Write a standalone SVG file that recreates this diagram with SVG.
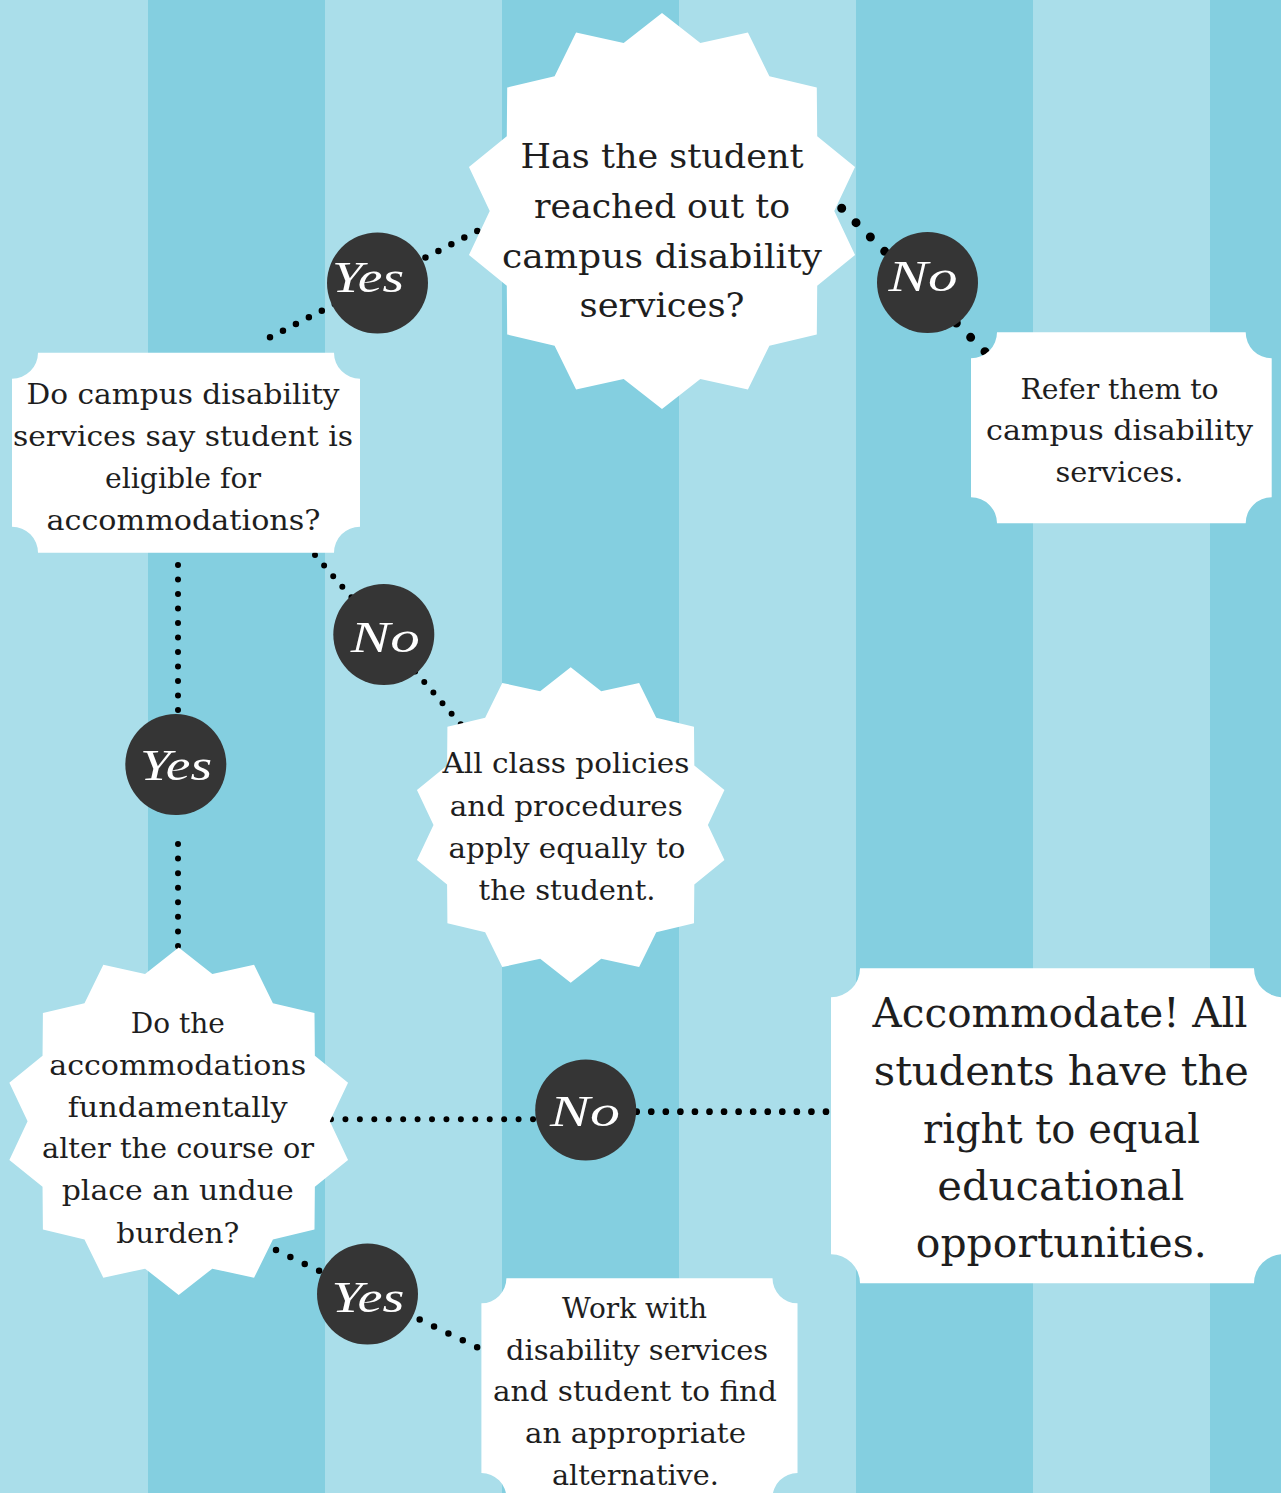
<svg xmlns="http://www.w3.org/2000/svg" xmlns:xlink="http://www.w3.org/1999/xlink" width="1281" height="1493" viewBox="0 0 1281 1493">
<style>
.stripe{fill:#84cfe0}
.node{fill:#fff}
.dot{fill:none;stroke:#000;stroke-linecap:round}
.t{font-family:"DejaVu Serif","Liberation Serif",serif;fill:#1e1e1e;text-anchor:middle}
.s34{font-size:34px}
.s28{font-size:28px}
.s41{font-size:41px}
.badge{fill:#353535}
.lbl{font-family:"Liberation Serif","DejaVu Serif",serif;font-style:italic;fill:#fff;text-anchor:middle;font-size:44px}
</style>
<defs>
<polygon id="star" points="0,-100 19.36,-84.82 43.39,-90.1 54.24,-68.02 78.18,-62.35 78.39,-37.75 97.49,-22.25 87,0 97.49,22.25 78.39,37.75 78.18,62.35 54.24,68.02 43.39,90.1 19.36,84.82 0,100 -19.36,84.82 -43.39,90.1 -54.24,68.02 -78.18,62.35 -78.39,37.75 -97.49,22.25 -87,0 -97.49,-22.25 -78.39,-37.75 -78.18,-62.35 -54.24,-68.02 -43.39,-90.1 -19.36,-84.82"/>
</defs>
<g id="background">
<rect x="0" y="0" width="1281" height="1493" fill="#aadeea"/>
<rect class="stripe" x="148" y="0" width="177" height="1493"/>
<rect class="stripe" x="502" y="0" width="177" height="1493"/>
<rect class="stripe" x="856" y="0" width="177" height="1493"/>
<rect class="stripe" x="1210" y="0" width="71" height="1493"/>
</g>
<g id="connectors">
<path class="dot" stroke-width="6.5" stroke-dasharray="0 14.56" d="M270,337.3 L478.2,230.5"/>
<path class="dot" stroke-width="9" stroke-dasharray="0 20.27" d="M841.7,208.3 L985.7,352.4"/>
<path class="dot" stroke-width="6" stroke-dasharray="0 13.96" d="M315,555 L461.4,725.1"/>
<path class="dot" stroke-width="6" stroke-dasharray="0 14.5" d="M178,565 L178,817"/>
<path class="dot" stroke-width="6" stroke-dasharray="0 14.57" d="M178,844 L178,947"/>
<path class="dot" stroke-width="6" stroke-dasharray="0 14.43" d="M331,1119.3 L534,1119.3"/>
<path class="dot" stroke-width="6.7" stroke-dasharray="0 14.56" d="M636.7,1111.7 L827,1111.7"/>
<path class="dot" stroke-width="6.5" stroke-dasharray="0 15.96" d="M276,1250 L478,1347.7"/>
</g>
<g id="node-reached-out">
<use xlink:href="#star" class="node" transform="translate(662 211) scale(1.98)"/>
<text class="t s34" x="662" y="168" textLength="283" lengthAdjust="spacingAndGlyphs">Has the student</text>
<text class="t s34" x="662" y="218" textLength="256" lengthAdjust="spacingAndGlyphs">reached out to</text>
<text class="t s34" x="662" y="267.5" textLength="320" lengthAdjust="spacingAndGlyphs">campus disability</text>
<text class="t s34" x="662" y="317" textLength="165" lengthAdjust="spacingAndGlyphs">services?</text>
</g>
<g id="node-refer">
<path class="node" d="M997,332.3 H1245.7 A26 26 0 0 0 1271.7,358.3 V497.3 A26 26 0 0 0 1245.7,523.3 H997 A26 26 0 0 0 971,497.3 V358.3 A26 26 0 0 0 997,332.3 Z"/>
<text class="t s28" x="1119.5" y="398.5" textLength="198" lengthAdjust="spacingAndGlyphs">Refer them to</text>
<text class="t s28" x="1119.5" y="440" textLength="267" lengthAdjust="spacingAndGlyphs">campus disability</text>
<text class="t s28" x="1119.5" y="481.5" textLength="128" lengthAdjust="spacingAndGlyphs">services.</text>
</g>
<g id="node-eligible">
<path class="node" d="M38,352.7 H334 A26 26 0 0 0 360,378.7 V526.7 A26 26 0 0 0 334,552.7 H38 A26 26 0 0 0 12,526.7 V378.7 A26 26 0 0 0 38,352.7 Z"/>
<text class="t s28" x="183" y="404" textLength="313" lengthAdjust="spacingAndGlyphs">Do campus disability</text>
<text class="t s28" x="183" y="446" textLength="340" lengthAdjust="spacingAndGlyphs">services say student is</text>
<text class="t s28" x="183" y="488" textLength="156" lengthAdjust="spacingAndGlyphs">eligible for</text>
<text class="t s28" x="183.5" y="529.5" textLength="274" lengthAdjust="spacingAndGlyphs">accommodations?</text>
</g>
<g id="node-policies">
<use xlink:href="#star" class="node" transform="translate(570.7 825) scale(1.577)"/>
<text class="t s28" x="566" y="773.3" textLength="247" lengthAdjust="spacingAndGlyphs">All class policies</text>
<text class="t s28" x="566.3" y="815.7" textLength="233" lengthAdjust="spacingAndGlyphs">and procedures</text>
<text class="t s28" x="567" y="857.7" textLength="237" lengthAdjust="spacingAndGlyphs">apply equally to</text>
<text class="t s28" x="567" y="900" textLength="177" lengthAdjust="spacingAndGlyphs">the student.</text>
</g>
<g id="node-alter">
<use xlink:href="#star" class="node" transform="translate(178.7 1121.3) scale(1.737)"/>
<text class="t s28" x="177.8" y="1032.7" textLength="94" lengthAdjust="spacingAndGlyphs">Do the</text>
<text class="t s28" x="177.7" y="1075" textLength="257" lengthAdjust="spacingAndGlyphs">accommodations</text>
<text class="t s28" x="177.7" y="1116.7" textLength="220" lengthAdjust="spacingAndGlyphs">fundamentally</text>
<text class="t s28" x="178" y="1158.3" textLength="272" lengthAdjust="spacingAndGlyphs">alter the course or</text>
<text class="t s28" x="177.7" y="1200" textLength="232" lengthAdjust="spacingAndGlyphs">place an undue</text>
<text class="t s28" x="177.8" y="1242.7" textLength="123" lengthAdjust="spacingAndGlyphs">burden?</text>
</g>
<g id="node-accommodate">
<path class="node" d="M860,968.3 H1254 A29 29 0 0 0 1283,997.3 V1254.3 A29 29 0 0 0 1254,1283.3 H860 A29 29 0 0 0 831,1254.3 V997.3 A29 29 0 0 0 860,968.3 Z"/>
<text class="t s41" x="1060" y="1027.3" textLength="375" lengthAdjust="spacingAndGlyphs">Accommodate! All</text>
<text class="t s41" x="1061.3" y="1085" textLength="375" lengthAdjust="spacingAndGlyphs">students have the</text>
<text class="t s41" x="1061.5" y="1142.7" textLength="277" lengthAdjust="spacingAndGlyphs">right to equal</text>
<text class="t s41" x="1060.8" y="1200" textLength="247" lengthAdjust="spacingAndGlyphs">educational</text>
<text class="t s41" x="1061.3" y="1257.3" textLength="291" lengthAdjust="spacingAndGlyphs">opportunities.</text>
</g>
<g id="node-work-with">
<path class="node" d="M506.4,1278.3 H772.5 A25 25 0 0 0 797.5,1303.3 V1473 A25 25 0 0 0 772.5,1498 H506.4 A25 25 0 0 0 481.4,1473 V1303.3 A25 25 0 0 0 506.4,1278.3 Z"/>
<text class="t s28" x="634.6" y="1317.5" textLength="145" lengthAdjust="spacingAndGlyphs">Work with</text>
<text class="t s28" x="637" y="1359.5" textLength="262" lengthAdjust="spacingAndGlyphs">disability services</text>
<text class="t s28" x="635" y="1401" textLength="284" lengthAdjust="spacingAndGlyphs">and student to find</text>
<text class="t s28" x="635.5" y="1443" textLength="221" lengthAdjust="spacingAndGlyphs">an appropriate</text>
<text class="t s28" x="635.4" y="1485" textLength="167" lengthAdjust="spacingAndGlyphs">alternative.</text>
</g>
<g id="label-yes-1">
<circle class="badge" cx="377.5" cy="283" r="50.5"/>
<text class="lbl" x="368" y="292" textLength="72" lengthAdjust="spacingAndGlyphs">Yes</text>
</g>
<g id="label-no-1">
<circle class="badge" cx="927.5" cy="282.5" r="50.5"/>
<text class="lbl" x="923" y="291" textLength="69" lengthAdjust="spacingAndGlyphs">No</text>
</g>
<g id="label-no-2">
<circle class="badge" cx="383.8" cy="634.5" r="50.5"/>
<text class="lbl" x="385.3" y="651.5" textLength="69" lengthAdjust="spacingAndGlyphs">No</text>
</g>
<g id="label-yes-2">
<circle class="badge" cx="175.8" cy="764.5" r="50.5"/>
<text class="lbl" x="176" y="780" textLength="72" lengthAdjust="spacingAndGlyphs">Yes</text>
</g>
<g id="label-no-3">
<circle class="badge" cx="585.7" cy="1110" r="50.5"/>
<text class="lbl" x="585" y="1126" textLength="70" lengthAdjust="spacingAndGlyphs">No</text>
</g>
<g id="label-yes-3">
<circle class="badge" cx="367.5" cy="1294" r="50.5"/>
<text class="lbl" x="368" y="1311.5" textLength="73" lengthAdjust="spacingAndGlyphs">Yes</text>
</g>
</svg>
